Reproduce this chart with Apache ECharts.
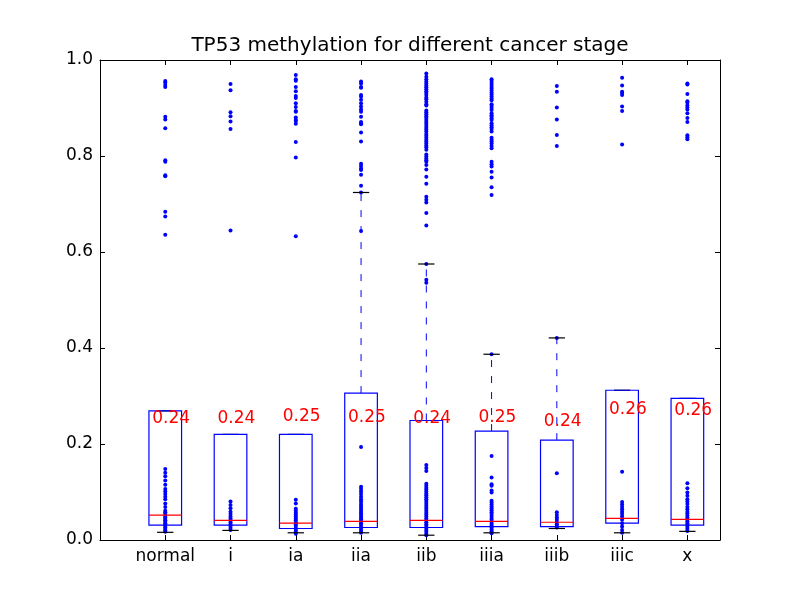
<!DOCTYPE html>
<html>
<head>
<meta charset="utf-8">
<script src="https://cdn.jsdelivr.net/npm/echarts@6/dist/echarts.min.js"></script>
<style>
  html, body { margin: 0; padding: 0; background: #fff; }
  #chart { width: 800px; height: 600px; }
</style>
</head>
<body>
<div id="chart"></div>
<script>
// categories on the x axis (positions 1..9)
const stages = ['normal', 'i', 'ia', 'iia', 'iib', 'iiia', 'iiib', 'iiic', 'x'];

// box statistics
const q1s     = [0.031, 0.031, 0.024, 0.026, 0.026, 0.028, 0.028, 0.035, 0.031];
const medians = [0.052, 0.041, 0.035, 0.039, 0.041, 0.039, 0.037, 0.045, 0.043];
const q3s     = [0.269, 0.220, 0.220, 0.306, 0.249, 0.227, 0.208, 0.312, 0.295];
const lowWhisk  = [0.016, 0.020, 0.015, 0.015, 0.010, 0.015, 0.024, 0.015, 0.018];
const highWhisk = [0.269, 0.220, 0.220, 0.724, 0.575, 0.387, 0.421, 0.312, 0.295];

// mean values written above each box
const means = [0.244, 0.244, 0.248, 0.246, 0.244, 0.246, 0.237, 0.262, 0.260];

// individual samples per stage
const ptsNormal = [0.956, 0.953, 0.948, 0.944, 0.882, 0.876, 0.858, 0.791, 0.788, 0.760, 0.758, 0.684, 0.674, 0.636,
  0.148, 0.140, 0.133, 0.124, 0.115, 0.106, 0.101, 0.096, 0.090, 0.085, 0.076, 0.069, 0.061,
  0.058, 0.054, 0.050, 0.047, 0.044, 0.041, 0.038, 0.035, 0.032, 0.029, 0.026, 0.023, 0.020, 0.017];
const ptsI = [0.950, 0.937, 0.891, 0.883, 0.872, 0.856, 0.645,
  0.080, 0.073, 0.066, 0.059, 0.054, 0.049, 0.045, 0.041, 0.037, 0.033, 0.029, 0.025, 0.021];
const ptsIa = [0.969, 0.960, 0.957, 0.944, 0.935, 0.925, 0.921, 0.910, 0.902, 0.894, 0.892, 0.880, 0.875, 0.873, 0.867, 0.829, 0.797, 0.633,
  0.084, 0.076, 0.065, 0.061, 0.057, 0.053, 0.049, 0.045, 0.041, 0.037, 0.033, 0.029, 0.025, 0.021, 0.017, 0.013];
const ptsIia = [0.955, 0.951, 0.944, 0.942, 0.927, 0.924, 0.917, 0.910, 0.903, 0.897, 0.892, 0.882, 0.871, 0.868, 0.866,
  0.849, 0.830, 0.784, 0.779, 0.774, 0.771, 0.761, 0.738, 0.724, 0.644,
  0.194, 0.111, 0.106, 0.101, 0.096, 0.090, 0.085, 0.080, 0.075, 0.071, 0.067, 0.063, 0.059, 0.055, 0.051,
  0.047, 0.043, 0.039, 0.035, 0.031, 0.027, 0.023, 0.019, 0.015];
const ptsIib = [0.972, 0.965, 0.960, 0.955, 0.951, 0.947, 0.943, 0.939, 0.935, 0.931, 0.927, 0.922, 0.918, 0.913, 0.908,
  0.905, 0.895, 0.891, 0.887, 0.883, 0.879, 0.875, 0.871, 0.867, 0.863, 0.859, 0.855, 0.851, 0.846, 0.842,
  0.838, 0.834, 0.830, 0.826, 0.822, 0.818, 0.813, 0.803, 0.799, 0.795, 0.791, 0.788, 0.781, 0.772, 0.757,
  0.742, 0.715, 0.709, 0.703, 0.681, 0.655, 0.575, 0.542, 0.536,
  0.156, 0.150, 0.144, 0.117, 0.113, 0.109, 0.105, 0.101, 0.097, 0.093, 0.089, 0.085, 0.081, 0.077, 0.073,
  0.069, 0.065, 0.061, 0.057, 0.053, 0.049, 0.045, 0.041, 0.037, 0.033, 0.029, 0.025, 0.021, 0.017, 0.013, 0.010];
const ptsIiia = [0.960, 0.956, 0.952, 0.948, 0.944, 0.940, 0.936, 0.932, 0.928, 0.924, 0.920, 0.916, 0.908, 0.904,
  0.900, 0.896, 0.889, 0.885, 0.882, 0.878, 0.875, 0.868, 0.864, 0.860, 0.856, 0.851, 0.838, 0.834, 0.830,
  0.826, 0.821, 0.816, 0.788, 0.783, 0.778, 0.767, 0.755, 0.735, 0.719, 0.387,
  0.175, 0.130, 0.116, 0.113, 0.103, 0.099, 0.082, 0.078, 0.074, 0.070, 0.066, 0.062, 0.058, 0.054, 0.050,
  0.046, 0.042, 0.038, 0.034, 0.030, 0.026, 0.022, 0.018, 0.014];
const ptsIiib = [0.946, 0.934, 0.901, 0.876, 0.844, 0.821, 0.421,
  0.139, 0.058, 0.052, 0.047, 0.042, 0.037, 0.033, 0.029, 0.026];
const ptsIiic = [0.963, 0.947, 0.934, 0.931, 0.927, 0.903, 0.894, 0.824,
  0.142, 0.079, 0.074, 0.069, 0.064, 0.059, 0.054, 0.049, 0.042, 0.035, 0.028, 0.021, 0.015];
const ptsX = [0.951, 0.949, 0.929, 0.914, 0.911, 0.905, 0.901, 0.897, 0.889, 0.879, 0.871, 0.843, 0.839, 0.835,
  0.118, 0.108, 0.099, 0.092, 0.085, 0.080, 0.075, 0.069, 0.064, 0.059, 0.055, 0.051, 0.047, 0.043,
  0.039, 0.035, 0.031, 0.027, 0.023, 0.019];

const samples = [ptsNormal, ptsI, ptsIa, ptsIia, ptsIib, ptsIiia, ptsIiib, ptsIiic, ptsX];

const FONT = 'DejaVu Sans';
const BLUE = '#0000ff';

const chart = echarts.init(document.getElementById('chart'));

const pointData = [];
samples.forEach((list, i) => list.forEach(v => pointData.push([i + 1, v])));

const boxData = stages.map((s, i) => [i + 1, q1s[i], medians[i], q3s[i], lowWhisk[i], highWhisk[i]]);
const meanData = stages.map((s, i) => [i + 1 - 0.2, means[i]]);

function renderBox(params, api) {
    const x = api.value(0);
    const px = v => api.coord([v, 0])[0];
    const py = v => api.coord([x, v])[1];
    const cx = px(x);
    const l = px(x - 0.25), r = px(x + 0.25);
    const cl = px(x - 0.125), cr = px(x + 0.125);
    const yQ1 = py(api.value(1)), yMed = py(api.value(2)), yQ3 = py(api.value(3));
    const yLo = py(api.value(4)), yHi = py(api.value(5));
    const dash = { stroke: BLUE, lineWidth: 1, lineDash: [7, 9] };
    const cap = { stroke: '#000', lineWidth: 1.2 };
    return {
        type: 'group',
        children: [
            { type: 'line', shape: { x1: cx, y1: yQ3, x2: cx, y2: yHi }, style: dash },
            { type: 'line', shape: { x1: cx, y1: yQ1, x2: cx, y2: yLo }, style: dash },
            { type: 'line', shape: { x1: cl, y1: yHi, x2: cr, y2: yHi }, style: cap },
            { type: 'line', shape: { x1: cl, y1: yLo, x2: cr, y2: yLo }, style: cap },
            { type: 'rect', shape: { x: l, y: yQ3, width: r - l, height: yQ1 - yQ3 },
              style: { fill: 'none', stroke: BLUE, lineWidth: 1.2 } },
            { type: 'line', shape: { x1: l, y1: yMed, x2: r, y2: yMed }, style: { stroke: '#ff0000', lineWidth: 1.2 } }
        ]
    };
}

function renderMean(params, api) {
    const p = api.coord([api.value(0), api.value(1)]);
    return {
        type: 'text',
        x: p[0],
        y: p[1] + 4,
        style: {
            text: api.value(1).toFixed(2),
            fill: '#ff0000',
            font: '17px "' + FONT + '"',
            textAlign: 'left', align: 'left',
            textVerticalAlign: 'bottom', verticalAlign: 'bottom'
        }
    };
}

const axisCommon = {
    axisLine: { show: true, onZero: false, lineStyle: { color: '#000', width: 1 } },
    axisTick: { show: true, inside: true, length: 5, lineStyle: { color: '#000' } },
    splitLine: { show: false }
};

const option = {
    animation: false,
    backgroundColor: '#fff',
    graphic: [{
        type: 'text',
        x: 410, y: 46,
        style: {
            text: 'TP53 methylation for different cancer stage',
            font: '20px "' + FONT + '"',
            fill: '#000',
            textAlign: 'center', align: 'center',
            textVerticalAlign: 'middle', verticalAlign: 'middle'
        }
    }],
    grid: { left: 100, right: 80, top: 60, bottom: 60 },
    xAxis: [
        Object.assign({
            type: 'value', min: 0, max: 9.5, interval: 1, position: 'bottom',
            axisLabel: {
                color: '#000', fontFamily: FONT, fontSize: 17, margin: 8,
                formatter: v => (Number.isInteger(v) && v >= 1 && v <= 9) ? stages[v - 1] : ''
            }
        }, axisCommon),
        Object.assign({
            type: 'value', min: 0, max: 9.5, interval: 1, position: 'top',
            axisLabel: { show: false }
        }, axisCommon)
    ],
    yAxis: [
        Object.assign({
            type: 'value', min: 0, max: 1, interval: 0.2, position: 'left',
            axisLabel: { color: '#000', fontFamily: FONT, fontSize: 17, margin: 7, formatter: v => v.toFixed(1) }
        }, axisCommon),
        Object.assign({
            type: 'value', min: 0, max: 1, interval: 0.2, position: 'right',
            axisLabel: { show: false }
        }, axisCommon)
    ],
    series: [
        {
            type: 'scatter',
            data: pointData,
            symbolSize: 4,
            itemStyle: { color: BLUE, opacity: 1 },
            z: 2
        },
        {
            type: 'custom',
            renderItem: renderBox,
            data: boxData,
            z: 3
        },
        {
            type: 'custom',
            renderItem: renderMean,
            data: meanData,
            z: 4
        }
    ]
};

chart.setOption(option);
</script>
</body>
</html>
